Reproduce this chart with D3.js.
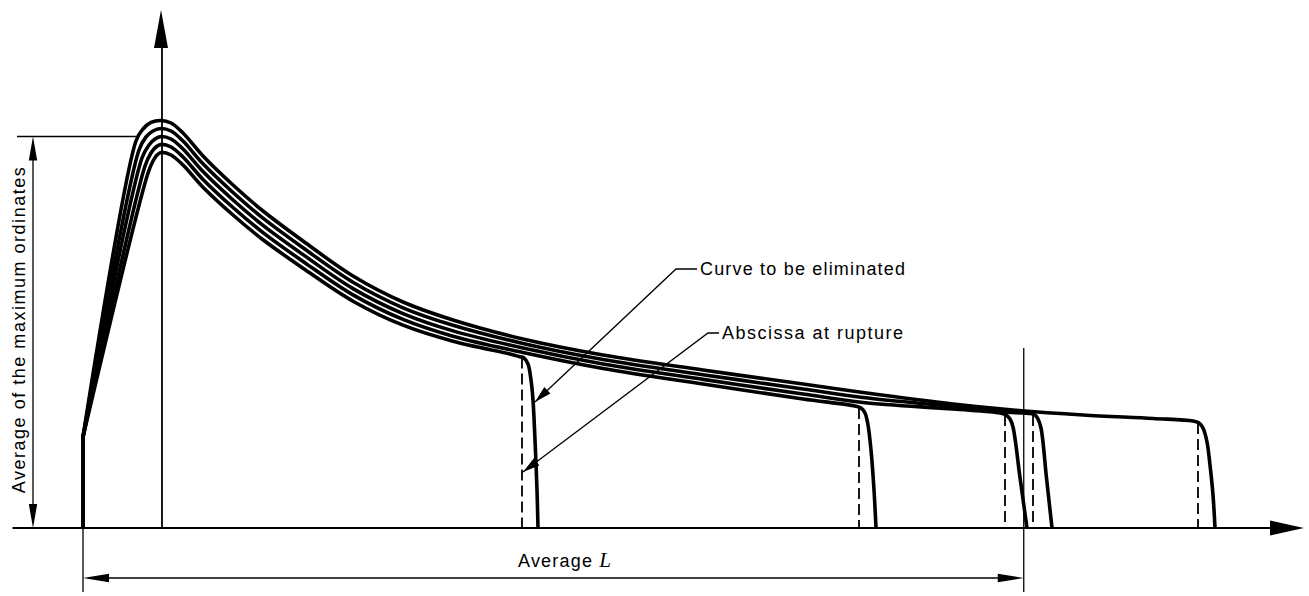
<!DOCTYPE html>
<html><head><meta charset="utf-8">
<script src="https://cdn.jsdelivr.net/npm/d3@7"></script>
<style>
html,body{margin:0;padding:0;background:#fff;}
svg{display:block;}
text{font-family:"Liberation Sans",Arial,Helvetica,sans-serif;fill:#000;}
</style>
</head><body>
<svg id="chart" width="1309" height="596"></svg>
<script>
// Load–elongation records of five test specimens: [elongation, load].
// Listed from the highest curve to the lowest; each ends with its rupture tail.
const specimenA = [[0,0],[0,22.75],[5.3,96.75],[6.0,99.75],[6.8,101.38],[7.8,101.88],[8.8,101.25],
  [10,98.75],[12,93],[15,85.75],[18,79.25],[22,71.75],[27,63],[32,56.5],[37,52],[44,47.25],[52,43.25],
  [62,39.5],[72,36],[78,33.88],[87,31],[93,29.5],[100,28.25],[107,27.38],[111,26.75],
  [111.6,26.25],[112,25],[112.4,21.5],[112.7,15.75],[113,8.25],[113.2,0]];
const specimenB = [[0,0],[0,22.75],[5.6,94.5],[6.3,97.75],[7.0,99.25],[7.8,99.88],[8.8,99.25],
  [10,96.75],[12,91.05],[15,83.88],[18,77.45],[22,70.05],[27,61.43],[32,55.05],[37,50.68],[44,46.13],
  [52,42.13],[62,38.33],[72,34.75],[78,32.63],[87,30.38],[93,28.88],
  [94.7,28.63],[95.2,28.25],[95.5,27.25],[95.8,25],[96.35,12.5],[96.9,0]];
const specimenC = [[0,0],[0,22.75],[5.9,92.5],[6.6,95.75],[7.2,97.25],[7.8,97.88],[8.8,97.25],
  [10,94.75],[12,89.1],[15,82],[18,75.65],[22,68.35],[27,59.85],[32,53.6],[37,49.28],[44,45],
  [52,41],[62,37.15],[72,33.5],[78,31.38],[87,29.75],
  [91.7,28.75],[92.3,28.25],[92.7,27.25],[93.0,25.25],[93.7,12.6],[94.4,0]];
const specimenD = [[0,0],[0,22.75],[6.2,90.5],[6.8,93.75],[7.3,95.25],[7.8,95.88],[8.8,95.25],
  [10,92.75],[12,87.15],[15,80.13],[18,73.85],[22,66.65],[27,58.28],[32,52.15],[37,47.95],[44,43.88],
  [52,39.88],[62,35.98],[72,32.25],
  [77.2,30.5],[77.8,30],[78.2,28.75],[78.5,25.75],[78.8,19.5],[79.1,9.5],[79.3,0]];
const specimenE = [[0,0],[0,22.75],[6.5,88.75],[7.0,91.75],[7.4,93.25],[7.8,93.88],[8.8,93.25],
  [10,90.75],[12,85.2],[15,78.25],[18,72.05],[22,64.95],[27,56.7],[32,50.7],[37,46.7],
  [42.7,43.5],[43.6,42.88],[44.1,42.5],[44.5,41],[44.8,37],[45,32],[45.2,22],[45.4,9.5],[45.5,0]];

const specimens = [specimenA, specimenB, specimenC, specimenD, specimenE];
// Abscissa and load at which each specimen ruptured
const ruptureX = [111.5, 95.0, 92.2, 77.6, 43.9];
const ruptureY = [26.25, 28.25, 28.25, 30, 42.6];
const eliminatedIndex = 4;   // specimen E is discarded from the average length
const peakX = 7.8;           // abscissa of the maximum load

const labelCurve = "Curve to be eliminated";
const labelRupture = "Abscissa at rupture";
const labelOrdinate = "Average of the maximum ordinates";
const labelLength = "Average ";
const labelLengthSymbol = "L";

const svg = d3.select("#chart");
const x = d3.scaleLinear().domain([0, 100]).range([83, 1083]);
const y = d3.scaleLinear().domain([0, 100]).range([528, 128]);

const smooth = d3.line().x(d => x(d[0])).y(d => y(d[1])).curve(d3.curveCatmullRom.alpha(0.5));
function specimenPath(pts) {
  // straight initial stub, smooth afterwards
  return "M" + x(pts[0][0]) + "," + y(pts[0][1]) + "L" + smooth(pts.slice(1)).slice(1);
}

function arrowHead(g, tip, from, len, hw) {
  const dx = tip[0] - from[0], dy = tip[1] - from[1], L = Math.hypot(dx, dy);
  const ux = dx / L, uy = dy / L;
  const bx = tip[0] - ux * len, by = tip[1] - uy * len;
  g.append("path")
    .attr("d", `M${tip[0]},${tip[1]}L${bx - uy * hw},${by + ux * hw}L${bx + uy * hw},${by - ux * hw}Z`)
    .attr("fill", "#000");
}

const g = svg.append("g");

// axes (no ticks), extended with arrowheads
const xAxisDomain = [-7.1, 119.0];
const xAxisScale = x.copy().domain(xAxisDomain).range(xAxisDomain.map(x));
g.append("g").attr("transform", `translate(0,${y(0) - 0.5})`)
  .call(d3.axisBottom(xAxisScale).tickValues([]).tickSizeOuter(0))
  .select(".domain").attr("stroke", "#000").attr("stroke-width", 2);
arrowHead(g, [1304, y(0)], [1200, y(0)], 34, 7.5);

const yAxisDomain = [0, 120.5];
const yAxisScale = y.copy().domain(yAxisDomain).range(yAxisDomain.map(y));
g.append("g").attr("transform", `translate(${x(peakX) + 0.5},0)`)
  .call(d3.axisLeft(yAxisScale).tickValues([]).tickSizeOuter(0))
  .select(".domain").attr("stroke", "#000").attr("stroke-width", 1.8);
arrowHead(g, [x(peakX), 10], [x(peakX), 100], 38, 7);

// dashed verticals at the rupture abscissae
ruptureX.forEach((rx, i) => {
  g.append("line")
    .attr("x1", x(rx)).attr("x2", x(rx))
    .attr("y1", y(ruptureY[i])).attr("y2", y(0))
    .attr("stroke", "#000").attr("stroke-width", 1.8)
    .attr("stroke-dasharray", "11,5");
});

// specimen curves
specimens.forEach(pts => {
  g.append("path")
    .attr("d", specimenPath(pts))
    .attr("fill", "none").attr("stroke", "#000")
    .attr("stroke-width", 3.6).attr("stroke-linejoin", "round");
});

// average of the maximum ordinates
const peaks = specimens.map(pts => d3.max(pts, d => d[1]));
const meanPeak = d3.mean(peaks);
const yMean = y(meanPeak);
g.append("line").attr("x1", 17).attr("x2", 138).attr("y1", yMean).attr("y2", yMean)
  .attr("stroke", "#000").attr("stroke-width", 1.3);
g.append("line").attr("x1", 33).attr("x2", 33).attr("y1", yMean + 20).attr("y2", y(0) - 20)
  .attr("stroke", "#000").attr("stroke-width", 1.3);
arrowHead(g, [33, yMean], [33, yMean + 50], 24, 4.2);
arrowHead(g, [33, y(0)], [33, y(0) - 50], 24, 4.2);
g.append("text")
  .attr("transform", `translate(25,${(yMean + y(0)) / 2 - 2}) rotate(-90)`)
  .attr("text-anchor", "middle").attr("font-size", 18)
  .attr("textLength", 326).attr("lengthAdjust", "spacing")
  .text(labelOrdinate);

// average length L of the retained specimens
const kept = ruptureX.filter((d, i) => i !== eliminatedIndex);
const meanL = d3.mean(kept);
const xL = x(meanL);
g.append("line").attr("x1", xL).attr("x2", xL).attr("y1", y(45)).attr("y2", 592)
  .attr("stroke", "#000").attr("stroke-width", 1.3);
g.append("line").attr("x1", x(0)).attr("x2", x(0)).attr("y1", y(0)).attr("y2", 592)
  .attr("stroke", "#000").attr("stroke-width", 1.3);
g.append("line").attr("x1", x(0) + 20).attr("x2", xL - 20).attr("y1", 578).attr("y2", 578)
  .attr("stroke", "#000").attr("stroke-width", 1.3);
arrowHead(g, [x(0), 578], [x(0) + 50, 578], 26, 4.2);
arrowHead(g, [xL, 578], [xL - 50, 578], 26, 4.2);
const tL = g.append("text").attr("x", 518).attr("y", 567).attr("font-size", 18);
tL.append("tspan").attr("letter-spacing", "1.2px").text(labelLength);
tL.append("tspan").attr("font-family", "'Liberation Serif','DejaVu Serif',serif")
  .attr("font-style", "italic").attr("font-size", 21).text(labelLengthSymbol);

// leaders for the annotations
function leader(points, tip) {
  g.append("path").attr("d", d3.line()(points.concat([tip])))
    .attr("fill", "none").attr("stroke", "#000").attr("stroke-width", 1.3);
  arrowHead(g, tip, points[points.length - 1], 17, 4.5);
}
leader([[697, 269], [676, 269]], [535, 402]);
g.append("text").attr("x", 700).attr("y", 275).attr("font-size", 18)
  .attr("textLength", 205).attr("lengthAdjust", "spacing").text(labelCurve);

leader([[719, 333], [708, 333]], [x(ruptureX[eliminatedIndex]) + 1, 472]);
g.append("text").attr("x", 722).attr("y", 339).attr("font-size", 18)
  .attr("textLength", 181).attr("lengthAdjust", "spacing").text(labelRupture);
</script>
</body></html>
